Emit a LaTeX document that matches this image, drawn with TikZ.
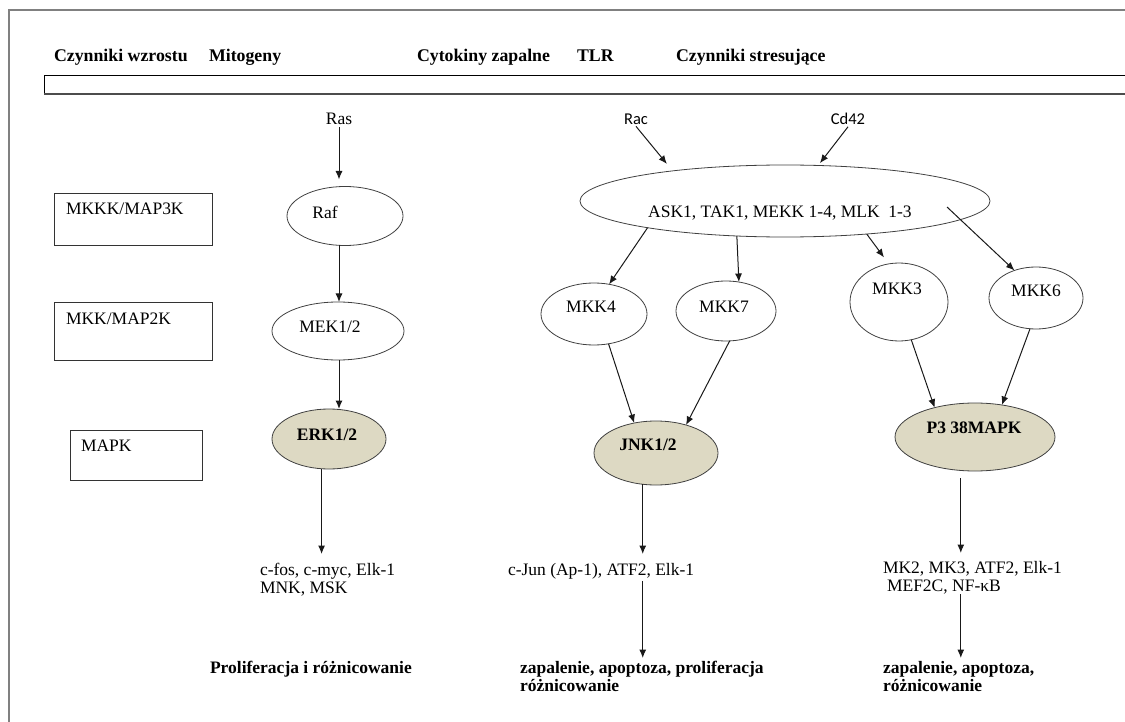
\documentclass[tikz,border=0pt]{standalone}
\usepackage{fontspec}
\setmainfont{Liberation Serif}
\newfontfamily\sansf{Carlito}
\usetikzlibrary{shapes.geometric,arrows.meta,calc}
\definecolor{mapktan}{RGB}{221,217,195}
\begin{document}
\begin{tikzpicture}[x=1pt,y=-1pt,
  every node/.style={font=\fontsize{17.5}{18.5}\selectfont, inner sep=0pt, outer sep=0pt},
  ell/.style={ellipse, draw=black!75, line width=0.8pt},
  kin/.style={ell, fill=mapktan},
  arr/.style={-{Latex[length=8.5pt,width=7pt]}, line width=1pt, draw=black!90},
  hdr/.style={font=\fontsize{17.8}{18.5}\selectfont\bfseries, anchor=base west},
  boxn/.style={draw=black!80, line width=0.9pt, rectangle, anchor=north west},
  src/.style={inner sep=2pt},
  txt/.style={anchor=north west, align=left},
  res/.style={anchor=north west, align=left, font=\fontsize{17.5}{18.5}\selectfont\bfseries},
  bl/.style={font=\fontsize{17.5}{18.5}\selectfont\bfseries}]
\useasboundingbox (0,0) rectangle (1125,722);
% frame and bar
\draw[black!50, line width=1.5pt] (9,730) -- (9,10) -- (1130,10);
\draw[line width=0.8pt] (1130,75) -- (44,75) -- (44,94);
\draw[black!70, line width=1.5pt] (44,94) -- (1130,94);
% header
\node[hdr] (h1) at (54,62) {Czynniki wzrostu};
\node[hdr] (h2) at (209,62) {Mitogeny};
\node[hdr] (h3) at (417,62) {Cytokiny zapalne};
\node[hdr] (h4) at (577,62) {TLR};
\node[hdr] (h5) at (676,62) {Czynniki stresujące};
% level boxes
\node[boxn, minimum width=158pt, minimum height=52pt] (b1) at (54,193) {};
\node[anchor=base west] (l1) at (66,215) {MKKK/MAP3K};
\node[boxn, minimum width=158pt, minimum height=58pt] (b2) at (54,302) {};
\node[anchor=base west] (l2) at (66,324) {MKK/MAP2K};
\node[boxn, minimum width=132pt, minimum height=50pt] (b3) at (70,430) {};
\node[anchor=base west] (l3) at (81,451) {MAPK};
% sources
\node[src] (ras) at (339,119) {Ras};
\node[src, font=\fontsize{16.5}{18}\sansf] (rac) at (636,119) {Rac};
\node[src, font=\fontsize{16.5}{18}\sansf] (cd42) at (848,119) {Cd42};
% kinases
\node[ell, minimum width=116pt, minimum height=59pt, label={[xshift=-20pt,yshift=4pt]center:Raf}] (raf) at (345,216) {};
\node[ell, minimum width=132pt, minimum height=58pt, label={[xshift=-8pt,yshift=4pt]center:MEK1/2}] (mek) at (338,331) {};
\node[kin, minimum width=114pt, minimum height=60pt, label={[xshift=-2pt,yshift=4pt,bl]center:ERK1/2}] (erk) at (329,439) {};
\node[ell, minimum width=410pt, minimum height=72pt, label={[xshift=-5pt,yshift=-12pt]center:ASK1, TAK1, MEKK 1-4, MLK\ \ 1-3}] (big) at (785,201) {};
\node[ell, minimum width=106pt, minimum height=62pt, label={[xshift=-3pt,yshift=7pt]center:MKK4}] (mkk4) at (594,314) {};
\node[ell, minimum width=100pt, minimum height=60pt, label={[xshift=-2pt,yshift=4pt]center:MKK7}] (mkk7) at (726,311) {};
\node[ell, minimum width=98pt, minimum height=78pt, label={[xshift=-2pt,yshift=13pt]center:MKK3}] (mkk3) at (899,302) {};
\node[ell, minimum width=94pt, minimum height=62pt, label={[xshift=0pt,yshift=7pt]center:MKK6}] (mkk6) at (1036,298) {};
\node[kin, minimum width=124pt, minimum height=64pt, label={[xshift=-8pt,yshift=8pt,bl]center:JNK1/2}] (jnk) at (656,453) {};
\node[kin, minimum width=160pt, minimum height=68pt, label={[xshift=-1pt,yshift=9pt,bl]center:P3 38MAPK}] (p38) at (975,437) {};
% targets
\node[txt] (fos) at (260,563) {c-fos, c-myc, Elk-1\\MNK, MSK};
\node[txt] (cjun) at (508,563) {c-Jun (Ap-1), ATF2, Elk-1};
\node[txt] (mk2) at (883,561) {MK2, MK3, ATF2, Elk-1\\\hspace*{4pt}MEF2C, NF-κB};
% results
\node[res] (res1) at (210,661) {Proliferacja i różnicowanie};
\node[res] (res2) at (520,661) {zapalenie, apoptoza, proliferacja\\różnicowanie};
\node[res] (res3) at (883,661) {zapalenie, apoptoza,\\różnicowanie};
% connectors
\draw[arr, shorten >=7pt] (ras.south) -- (ras.south |- raf.north);
\draw[arr] (raf.south -| ras.south) -- (mek.north -| ras.south);
\draw[arr] (mek.south -| ras.south) -- (erk.north -| ras.south);
\draw[arr, shorten >=9pt] (erk.256) -- (erk.256 |- fos.north);
\draw[arr, shorten >=9pt] (rac.south) -- (big.165);
\draw[arr, shorten >=3pt] (cd42.south) -- (big.47);
\draw[arr] (big.191) -- (mkk4.63);
\draw[arr] (big.216) -- (mkk7.66);
\draw[arr, shorten >=8pt] (big.338) -- (mkk3.105);
\draw[arr] ($(big.center)+(162,6)$) -- (mkk6.128);
\draw[arr] (mkk4.296) -- (jnk.126);
\draw[arr] (mkk7.277) -- (jnk.43);
\draw[arr] (mkk3.288) -- (p38.144);
\draw[arr] (mkk6.259) -- (p38.50);
\draw[arr, shorten >=9pt] (jnk.247) -- (jnk.247 |- cjun.north);
\draw[arr, shorten <=2pt, shorten >=3pt] (jnk.247 |- cjun.south) -- (jnk.247 |- res2.north);
\draw[arr, shorten <=8pt, shorten >=8pt] (p38.247) -- (p38.247 |- mk2.north);
\draw[arr, shorten >=3pt] (p38.247 |- mk2.south) -- (p38.247 |- res3.north);
\end{tikzpicture}
\end{document}
